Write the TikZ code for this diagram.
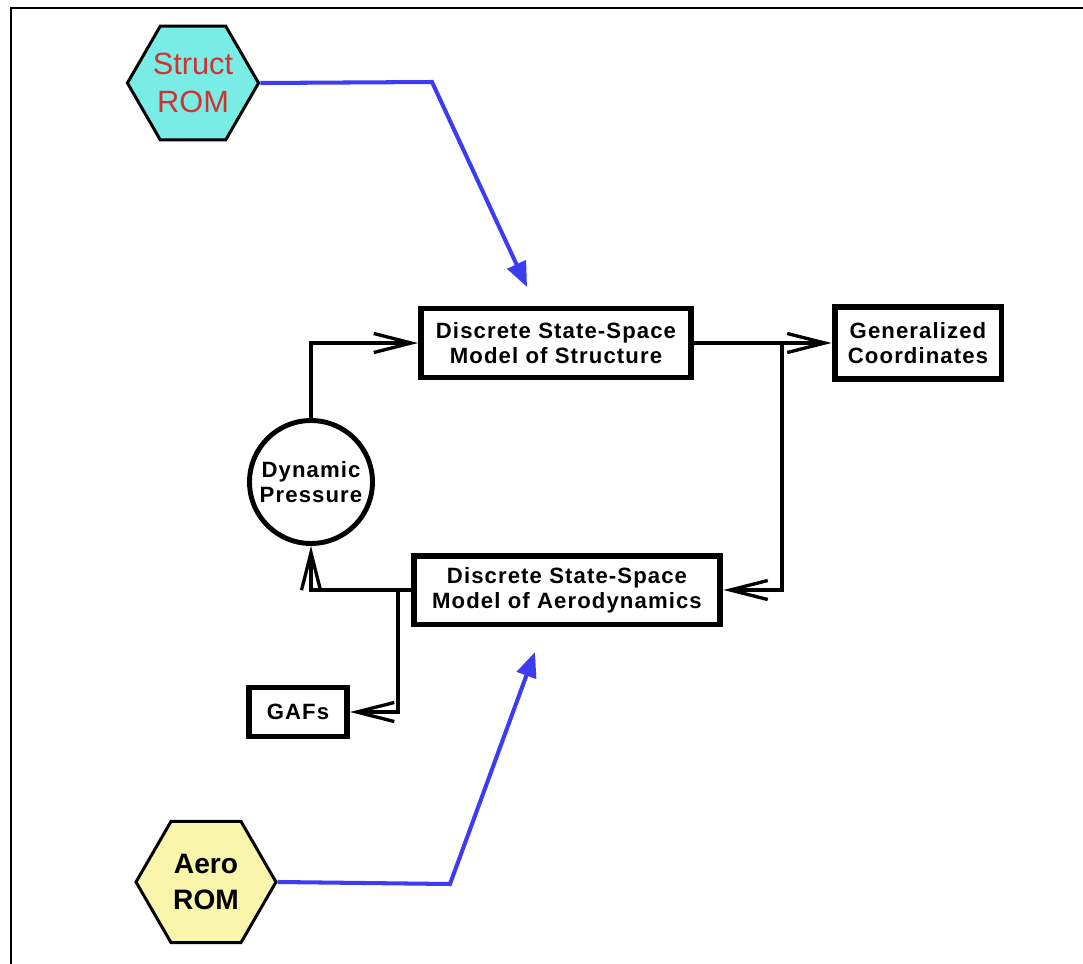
\documentclass[tikz,border=0pt]{standalone}
\usepackage{fontspec}
\setmainfont{Liberation Sans}
\newfontfamily\lblfont{Liberation Sans}[LetterSpace=5]
\usepackage{xcolor}
\usepackage{tikz}
\usetikzlibrary{arrows.meta,shapes.geometric,positioning}
\definecolor{romblue}{RGB}{60,60,245}
\definecolor{romred}{RGB}{210,50,50}
\definecolor{structfill}{RGB}{122,236,230}
\definecolor{aerofill}{RGB}{249,245,170}

\begin{document}
\begin{tikzpicture}[x=0.02cm, y=-0.02cm,
  box/.style={draw, line width=3.4pt, inner sep=0pt, align=center,
              font=\lblfont\bfseries\fontsize{12.6}{14.2}\selectfont},
  hexa/.style={draw, regular polygon, regular polygon sides=6, line width=1.7pt,
               inner sep=0pt, align=center},
  arr/.style={-{Straight Barb[length=0.75cm,width=0.38cm]}, line width=1.9pt},
  romarr/.style={-{Triangle[length=0.5cm,width=0.4cm]}, line width=2.3pt, romblue}
]
\useasboundingbox (0,0) rectangle (1083,964);

% Frame (top and left edges only)
\draw[line width=1.7pt] (11,964) -- (11,8) -- (1083,8);

% ROM inputs
\node[hexa, fill=structfill, minimum size=2.58cm, text=romred,
      font=\fontsize{17.5}{22}\selectfont] (srom) at (193,83) {Struct\\ROM};
\node[hexa, fill=aerofill, minimum size=2.8cm,
      font=\bfseries\fontsize{16}{20.5}\selectfont] (arom) at (206,882) {Aero\\ROM};

% State-space models
\node[box, minimum width=5.4cm, minimum height=1.38cm] (sss) at (556,343)
  {Discrete State-Space\\Model of Structure};
\node[box, minimum width=6.14cm, minimum height=1.38cm] (ass) at (567,590)
  {Discrete State-Space\\Model of Aerodynamics};

% Outputs
\node[box, minimum width=3.34cm, minimum height=1.44cm] (gen) at (918,343)
  {Generalized\\Coordinates};
\node[box, minimum width=1.96cm, minimum height=0.98cm] (gaf) at (298,712) {GAFs};

% Dynamic pressure
\node[box, circle, line width=2.8pt, minimum size=2.46cm] (dyn) at (311,482)
  {Dynamic\\Pressure};

% Loop
\coordinate (split) at (782,343);
\coordinate (tap) at (398,590);
\draw[arr] (dyn.north) |- (sss.west);
\draw[arr] (sss.east) -- (gen.west);
\draw[arr] (split) |- (ass.east);
\draw[arr] (ass.west) -| (dyn.south);
\draw[arr] (tap) |- (gaf.east);

% ROM feeds
\coordinate (sbend) at (432,82);
\coordinate (stip) at (527,287);
\coordinate (abend) at (450,884);
\coordinate (atip) at (535,652);
\draw[romarr] (srom.east) -- (sbend) -- (stip);
\draw[romarr] (arom.east) -- (abend) -- (atip);

\end{tikzpicture}
\end{document}
